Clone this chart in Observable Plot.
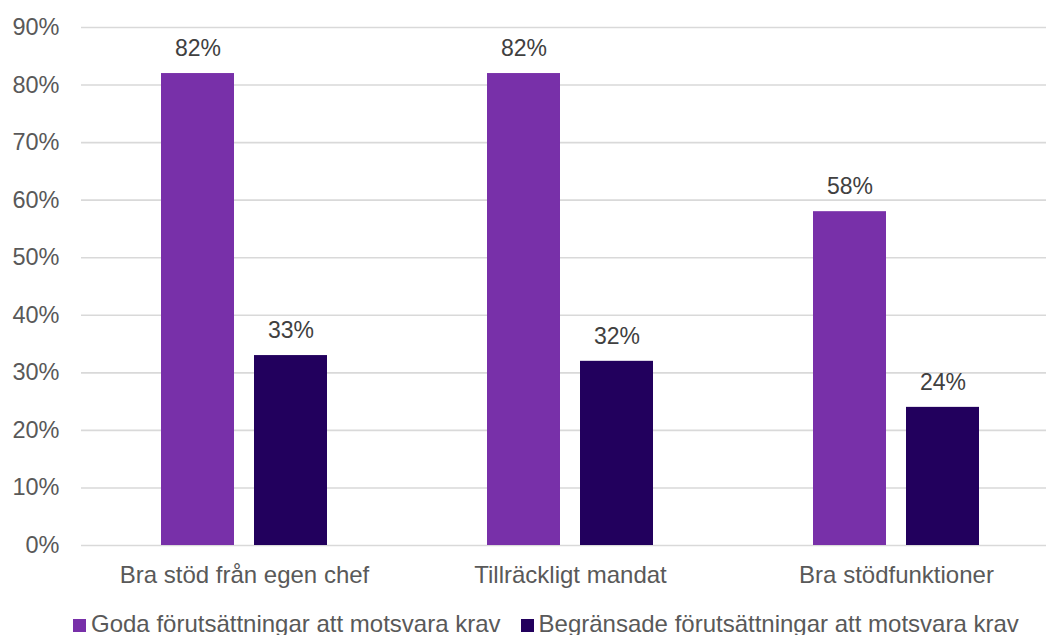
<!DOCTYPE html>
<html>
<head>
<meta charset="utf-8">
<script src="https://cdn.jsdelivr.net/npm/d3@7"></script>
<script src="https://cdn.jsdelivr.net/npm/@observablehq/plot@0.6"></script>
<style>
  html, body { margin: 0; padding: 0; overflow: hidden; background: #fff; }
  body { font-family: "Liberation Sans", Arial, sans-serif; }
  #legend { display: flex; gap: 20px; padding-left: 73px; padding-top: 12px; font-size: 24px; line-height: 24px; color: #595959; white-space: nowrap; }
  .sw { display: inline-block; width: 13px; height: 13px; margin-right: 5px; }
</style>
</head>
<body>
<div id="chart"></div>
<div id="legend"></div>
<script>
const categories = ["Bra stöd från egen chef", "Tillräckligt mandat", "Bra stödfunktioner"];
const seriesNames = ["Goda förutsättningar att motsvara krav", "Begränsade förutsättningar att motsvara krav"];
const goda = [0.82, 0.82, 0.58];
const begransade = [0.33, 0.32, 0.24];
const colors = ["#7830A9", "#22005D"];
const yTicks = [0, 0.1, 0.2, 0.3, 0.4, 0.5, 0.6, 0.7, 0.8, 0.9];

const data = [];
categories.forEach((c, i) => {
  data.push({category: c, series: seriesNames[0], value: goda[i]});
  data.push({category: c, series: seriesNames[1], value: begransade[i]});
});

const fmt = d => Math.round(d * 100) + "%";

const chart = Plot.plot({
  width: 1046,
  height: 600,
  marginLeft: 81,
  marginRight: -13,
  marginTop: 27,
  marginBottom: 55,
  style: {fontFamily: "Liberation Sans, Arial, sans-serif", fontSize: "24px", background: "#fff"},
  fx: {domain: categories, padding: 0, label: null},
  x: {domain: seriesNames, paddingInner: 0.215, paddingOuter: 0.86, axis: null},
  y: {domain: [0, 0.9], label: null},
  color: {domain: seriesNames, range: colors},
  marks: [
    Plot.gridY(yTicks, {stroke: "#d9d9d9", strokeOpacity: 1, strokeWidth: 1.6}),
    Plot.axisY(yTicks, {tickSize: 0, tickPadding: 22, tickFormat: fmt, fill: "#595959", fontSize: 23.5, label: null}),
    Plot.axisFx({anchor: "bottom", tickSize: 0, tickPadding: 20, fill: "#595959", fontSize: 24, label: null}),
    Plot.barY(data, {fx: "category", x: "series", y: "value", fill: "series"}),
    Plot.text(data, {fx: "category", x: "series", y: "value", text: d => fmt(d.value), dy: -25, fill: "#404040", fontSize: 23})
  ]
});
document.getElementById("chart").appendChild(chart);

const legend = document.getElementById("legend");
seriesNames.forEach((s, i) => {
  const item = document.createElement("span");
  const sw = document.createElement("span");
  sw.className = "sw";
  sw.style.background = colors[i];
  item.appendChild(sw);
  item.appendChild(document.createTextNode(s));
  legend.appendChild(item);
});
</script>
</body>
</html>
